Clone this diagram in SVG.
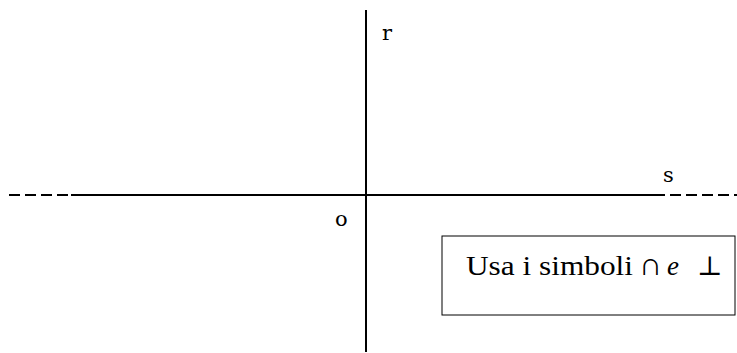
<svg xmlns="http://www.w3.org/2000/svg" width="737" height="353" viewBox="0 0 737 353">
<style>
.ax{stroke:#000;stroke-width:2;fill:none}
.dash{stroke:#000;stroke-width:2;fill:none;stroke-dasharray:11 5}
.lbl{font-family:"DejaVu Serif","Liberation Serif",serif;font-size:21px;fill:#000}
.t{font-family:"Liberation Serif","DejaVu Serif",serif;font-size:27px;fill:#000}
</style>
<rect width="737" height="353" fill="#fff"/>
<g id="connectors">
<line class="dash" x1="9" y1="195" x2="70" y2="195"/>
<line class="ax" x1="71" y1="195" x2="665" y2="195"/>
<line class="dash" x1="670" y1="195" x2="737" y2="195"/>
<line class="ax" x1="366" y1="10" x2="366" y2="352"/>
</g>
<g id="label-r"><text class="lbl" x="382" y="40">r</text></g>
<g id="label-s"><text class="lbl" x="663" y="182">s</text></g>
<g id="label-o"><text class="lbl" x="335" y="226">o</text></g>
<g id="note">
<rect x="442" y="236" width="293" height="79" fill="#fff" stroke="#000" stroke-width="1"/>
<text class="t" y="275"><tspan x="466" textLength="167" lengthAdjust="spacingAndGlyphs">Usa i simboli</tspan><tspan x="639" font-size="32">∩</tspan><tspan x="667" font-style="italic">e</tspan><tspan x="697">⊥</tspan></text>
</g>
</svg>
